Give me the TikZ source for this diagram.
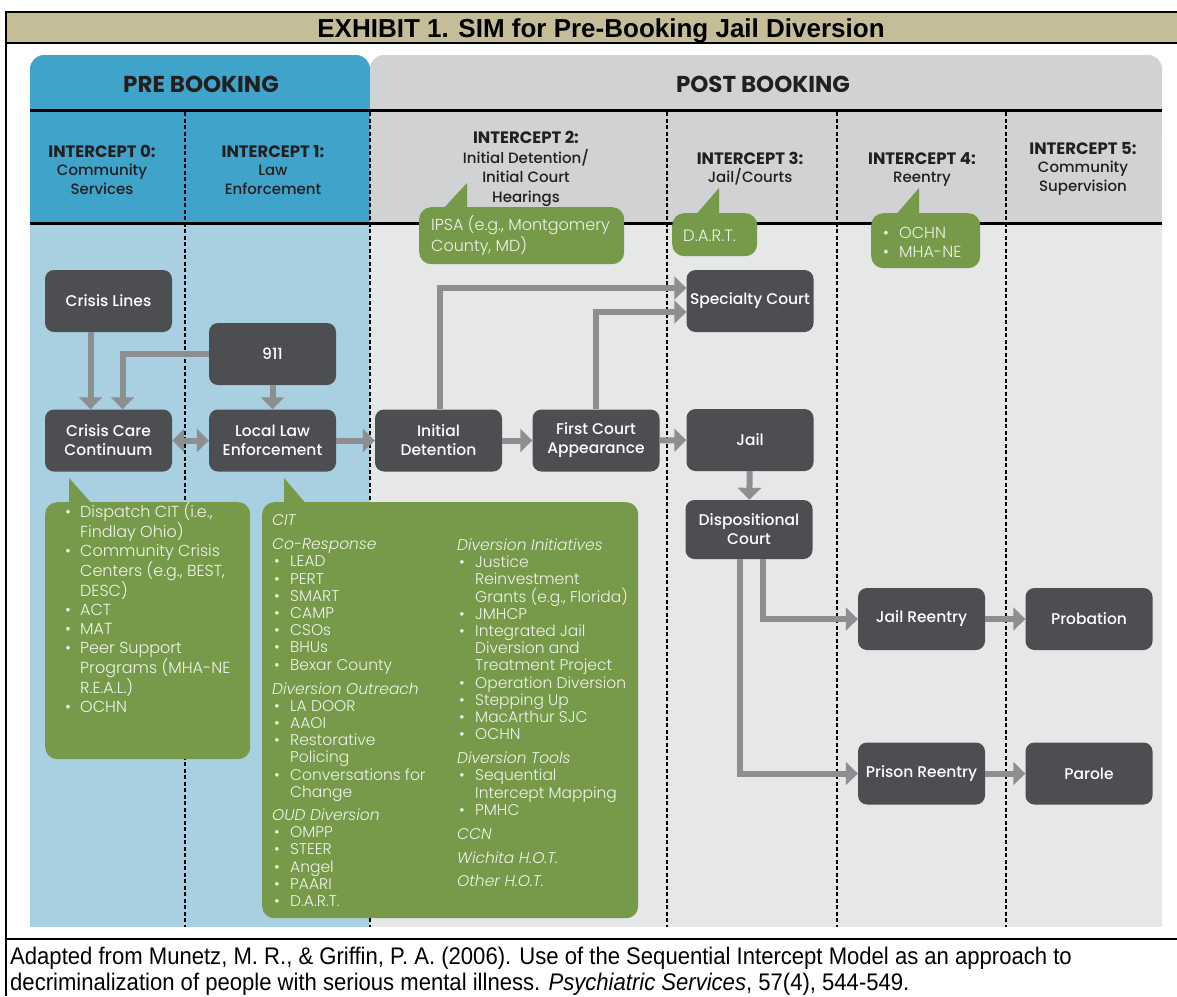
\documentclass[tikz,border=0pt]{standalone}
\usepackage{fontspec}
\setmainfont{Poppins}
\newfontfamily\popm{Poppins Medium}
\newfontfamily\pops{Poppins SemiBold}
\newfontfamily\popb{Poppins Bold}
\newfontfamily\popl{Poppins Light}[ItalicFont={Poppins Light Italic}]
\newfontfamily\capfont{Liberation Sans}[FakeStretch=0.92]
\newfontfamily\titlefont{Liberation Sans}
\usetikzlibrary{arrows.meta}
\definecolor{titleband}{HTML}{C4BD97}
\definecolor{bhead}{HTML}{40A3C9}
\definecolor{bbody}{HTML}{A8D0E1}
\definecolor{ghead}{HTML}{D0D2D3}
\definecolor{gbody}{HTML}{E6E7E7}
\definecolor{dbox}{HTML}{4C4E51}
\definecolor{cgreen}{HTML}{77994A}
\definecolor{agray}{HTML}{8D8E90}
\definecolor{gtext}{HTML}{F0F4EA}
\definecolor{htext}{HTML}{231F20}
\newcommand\blt{\makebox[15pt][l]{•}}
\newcommand\bll{\makebox[18pt][l]{\hspace{2pt}•}}
\newcommand\bin{\hspace*{18pt}}
\newcommand\bix{\hspace*{15pt}}
\newcommand\ihd[1]{{\popb\fontsize{16.5}{18.5}\selectfont #1}}
\begin{document}
\begin{tikzpicture}[x=1pt,y=-1pt,
  box/.style={fill=dbox, rounded corners=9pt, text=white, minimum width=127pt, minimum height=62pt, inner sep=0pt, align=center, font=\popm\fontsize{15.5}{19}\selectfont},
  arr/.style={draw=agray, line width=6pt, -{Triangle[length=12pt,width=23pt]}},
  darr/.style={draw=agray, line width=6pt, {Triangle[length=12pt,width=23pt]}-{Triangle[length=12pt,width=23pt]}},
  gbox/.style={fill=cgreen, rounded corners=12pt, inner sep=0pt, anchor=north west},
  gtxt/.style={text=gtext, inner sep=0pt, align=left, anchor=base west, font=\popl\fontsize{15.5}{17.2}\selectfont},
  hdr/.style={inner sep=0pt, align=center, anchor=base, text=htext, font=\popm\fontsize{15}{18.5}\selectfont},
  dashsep/.style={draw=black, line width=1.6pt, dash pattern=on 4pt off 2.5pt},
  hrule/.style={draw=black, line width=3pt},
  fline/.style={draw=black, line width=2.5pt},
]
\useasboundingbox (0,0) rectangle (1177,996);
\fill[white] (0,0) rectangle (1177,996);
% frame and title
\fill[titleband] (5,12) rectangle (1177,43);
\draw[fline] (5,12) -- (1177,12);
\draw[fline] (5,43) -- (1177,43);
\draw[fline] (5,939) -- (1177,939);
\draw[fline] (6,11) -- (6,996);
\node[font=\titlefont\bfseries\fontsize{26}{30}\selectfont, anchor=base, inner sep=0pt] (ttl) at (601,37.5) {EXHIBIT 1. SIM for Pre-Booking Jail Diversion};
% panels
\fill[bhead, rounded corners=14pt] (30,55) rectangle (370,150);
\fill[bhead] (30,100) rectangle (370,223);
\fill[bbody] (30,223) rectangle (370,927);
\fill[ghead, rounded corners=14pt] (370,55) rectangle (1162,150);
\fill[ghead] (370,100) rectangle (1162,223);
\fill[gbody] (370,223) rectangle (1162,927);
\draw[hrule] (30,110) -- (1162,110);
\draw[hrule] (30,223) -- (1162,223);
\foreach \xx in {185,370,667,837,1006} \draw[dashsep] (\xx,112) -- (\xx,927);
\node[font=\popb\fontsize{23}{26}\selectfont, anchor=base, inner sep=0pt, text=htext] (preb) at (201,92) {PRE BOOKING};
\node[font=\popb\fontsize{23}{26}\selectfont, anchor=base, inner sep=0pt, text=htext] (postb) at (763,92) {POST BOOKING};
% intercept headers (anchored at the last line's baseline)
\node[hdr] (i0) at (102,194) {\ihd{INTERCEPT 0:}\\Community\\Services};
\node[hdr] (i1) at (273,194) {\ihd{INTERCEPT 1:}\\Law\\Enforcement};
\node[hdr, font=\popm\fontsize{15}{19.5}\selectfont] (i2) at (526,202) {\ihd{INTERCEPT 2:}\\Initial Detention/\\Initial Court\\Hearings};
\node[hdr] (i3) at (750,182.5) {\ihd{INTERCEPT 3:}\\Jail/Courts};
\node[hdr] (i4) at (922,182.5) {\ihd{INTERCEPT 4:}\\Reentry};
\node[hdr] (i5) at (1083,191) {\ihd{INTERCEPT 5:}\\Community\\Supervision};
% green callouts
\fill[cgreen] (467,183) -- (467,211) -- (441,211) -- cycle;
\node[gbox, minimum width=205pt, minimum height=57pt] (ipsa) at (419,207) {};
\node[gtxt, font=\popl\fontsize{16}{18}\selectfont] (ipsat) at (431,251) {IPSA (e.g., Montgomery\\County, MD)};
\fill[cgreen] (719,188) -- (719,217) -- (694,217) -- cycle;
\node[gbox, minimum width=85pt, minimum height=43pt] (dart) at (672,213) {};
\node[gtxt, font=\popl\fontsize{16.5}{18}\selectfont] (dartt) at (683,241.5) {D.A.R.T.};
\fill[cgreen] (919,188) -- (919,217) -- (894,217) -- cycle;
\node[gbox, minimum width=109pt, minimum height=55pt] (och) at (871,213) {};
\node[gtxt, font=\popl\fontsize{16}{19}\selectfont] (ocht) at (883,257) {\makebox[16pt][l]{•}OCHN\\\makebox[16pt][l]{•}MHA-NE};
\fill[cgreen] (69,478) -- (69,506) -- (94,506) -- cycle;
\node[gbox, minimum width=205pt, minimum height=257pt] (g0) at (45,502) {};
\node[gtxt, font=\popl\fontsize{16}{18.9}\selectfont] (g0t) at (65,712.5) {\blt Dispatch CIT (i.e.,\\\bix Findlay Ohio)\\\blt Community Crisis\\\bix Centers (e.g., BEST,\\\bix DESC)\\\blt ACT\\\blt MAT\\\blt Peer Support\\\bix Programs (MHA-NE\\\bix R.E.A.L.)\\\blt OCHN};
\fill[cgreen] (284,478) -- (284,506) -- (308,506) -- cycle;
\node[gbox, minimum width=376pt, minimum height=416pt] (g1) at (262,502) {};
\node[gtxt] (g1a) at (272,906.5) {\textit{CIT}\\[6.8pt]\textit{Co-Response}\\\bll LEAD\\\bll PERT\\\bll SMART\\\bll CAMP\\\bll CSOs\\\bll BHUs\\\bll Bexar County\\[6.8pt]\textit{Diversion Outreach}\\\bll LA DOOR\\\bll AAOI\\\bll Restorative\\\bin Policing\\\bll Conversations for\\\bin Change\\[6pt]\textit{OUD Diversion}\\\bll OMPP\\\bll STEER\\\bll Angel\\\bll PAARI\\\bll D.A.R.T.};
\node[gtxt] (g1b) at (457,886.5) {\textit{Diversion Initiatives}\\\bll Justice\\\bin Reinvestment\\\bin Grants (e.g., Florida)\\\bll JMHCP\\\bll Integrated Jail\\\bin Diversion and\\\bin Treatment Project\\\bll Operation Diversion\\\bll Stepping Up\\\bll MacArthur SJC\\\bll OCHN\\[6.8pt]\textit{Diversion Tools}\\\bll Sequential\\\bin Intercept Mapping\\\bll PMHC\\[6.8pt]\textit{CCN}\\[6.8pt]\textit{Wichita H.O.T.}\\[6pt]\textit{Other H.O.T.}};
% dark boxes
\node[box] (cl) at (108.5,301) {Crisis Lines};
\node[box] (n911) at (272.5,354) {911};
\node[box] (ccc) at (108.5,440.5) {Crisis Care\\Continuum};
\node[box] (lle) at (272.5,440.5) {Local Law\\Enforcement};
\node[box] (idt) at (438.5,440.5) {Initial\\Detention};
\node[box] (fca) at (596,440.5) {First Court\\Appearance};
\node[box] (spc) at (750,301) {Specialty Court};
\node[box] (jail) at (750,440) {Jail};
\node[box, minimum height=59pt] (dpc) at (749,529.5) {Dispositional\\Court};
\node[box] (jre) at (921.5,619) {Jail Reentry};
\node[box] (prb) at (1089,619) {Probation};
\node[box] (pre) at (921.5,773.5) {Prison Reentry};
\node[box] (par) at (1089,773.5) {Parole};
% connectors
\draw[arr] ([xshift=-18pt]cl.south) -- ([xshift=-18pt]ccc.north);
\draw[arr] (n911.west) -| ([xshift=14pt]ccc.north);
\draw[arr] (n911) -- (lle);
\draw[darr] (ccc) -- (lle);
\draw[arr] (lle) -- (idt);
\draw[arr] (idt) -- (fca);
\draw[arr] ([xshift=1.5pt]idt.north) |- ([yshift=13pt]spc.west);
\draw[arr] (fca.north) |- ([yshift=-11pt]spc.west);
\draw[arr] (fca) -- (jail);
\draw[arr] (jail) -- (dpc);
\draw[arr] ([xshift=14pt]dpc.south) |- (jre.west);
\draw[arr] ([xshift=-9pt]dpc.south) |- (pre.west);
\draw[arr] (jre) -- (prb);
\draw[arr] (pre) -- (par);
% caption
\node[anchor=base west, inner sep=0pt, align=left, font=\capfont\fontsize{24}{26.5}\selectfont] (cap) at (10,990.5) {Adapted from Munetz, M. R., \& Griffin, P. A. (2006). Use of the Sequential Intercept Model as an approach to\\decriminalization of people with serious mental illness. \textit{Psychiatric Services}, 57(4), 544-549.};
\end{tikzpicture}
\end{document}
